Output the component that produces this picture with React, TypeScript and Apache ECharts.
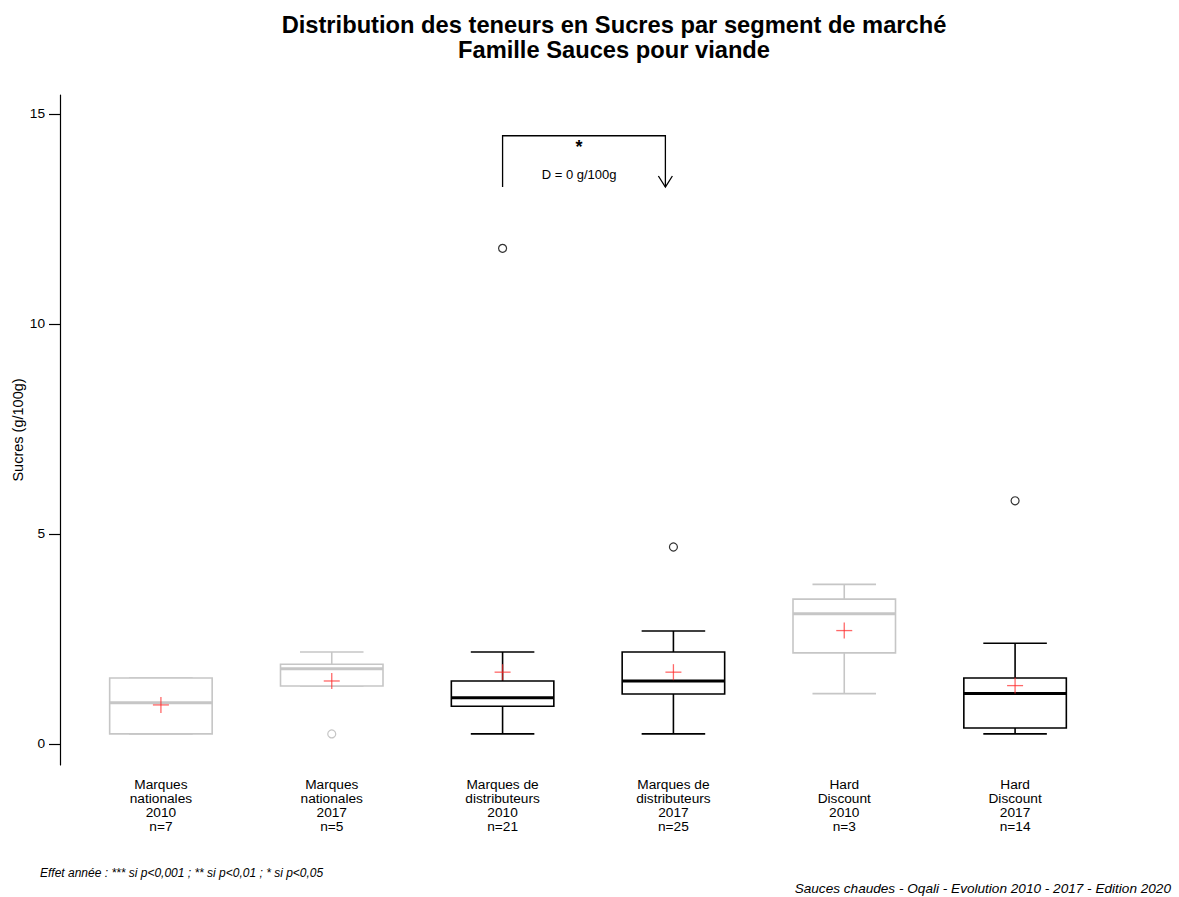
import React, { useEffect, useRef } from "react";
import * as echarts from "echarts";

const FONT = "'Liberation Sans', Arial, Helvetica, sans-serif";

const categories = [
  "Marques\nnationales\n2010\nn=7",
  "Marques\nnationales\n2017\nn=5",
  "Marques de\ndistributeurs\n2010\nn=21",
  "Marques de\ndistributeurs\n2017\nn=25",
  "Hard\nDiscount\n2010\nn=3",
  "Hard\nDiscount\n2017\nn=14",
];

// [low whisker, Q1, median, Q3, high whisker]
const boxStats = [
  [0.24, 0.24, 0.98, 1.57, 1.57],
  [1.38, 1.38, 1.79, 1.9, 2.19],
  [0.24, 0.9, 1.1, 1.5, 2.19],
  [0.24, 1.19, 1.5, 2.19, 2.69],
  [1.2, 2.17, 3.1, 3.45, 3.8],
  [0.24, 0.38, 1.2, 1.57, 2.4],
];

const means = [0.93, 1.5, 1.71, 1.71, 2.7, 1.39];

// [category index, value]
const outliers = [
  [1, 0.24],
  [2, 11.8],
  [3, 4.69],
  [5, 5.79],
];

// small samples drawn in grey
const boxColors = ["#c6c6c6", "#c6c6c6", "#000000", "#000000", "#c6c6c6", "#000000"];

const yTicks = [0, 5, 10, 15];

// significance bracket between categories 2 and 3
const annotation = { from: 2, to: 3, yTop: 14.48, yBottom: 13.26, star: "*", label: "D = 0 g/100g", starY: 14.21, labelY: 13.55 };

export default function App() {
  const ref = useRef<HTMLDivElement>(null);
  useEffect(() => {
    document.body.style.margin = "0";
    const chart = echarts.init(ref.current!, null, { renderer: "svg" });
    const option: any = {
      animation: false,
      backgroundColor: "#ffffff",
      textStyle: { fontFamily: FONT },
      grid: { left: 75.5, right: 78.5, top: 95, bottom: 132, containLabel: false, outerBoundsMode: "none" },
      graphic: [
        {
          type: "text",
          x: 614,
          y: 12,
          style: {
            text: "Distribution des teneurs en Sucres par segment de marché\nFamille Sauces pour viande",
            font: `bold 23.7px ${FONT}`,
            fill: "#000",
            textAlign: "center",
            lineHeight: 25,
          },
        },
        {
          type: "text",
          x: 40,
          y: 867,
          style: {
            text: "Effet année : *** si p<0,001 ; ** si p<0,01 ; * si p<0,05",
            font: `italic 12px ${FONT}`,
            fill: "#000",
          },
        },
        {
          type: "text",
          x: 1171,
          y: 881,
          style: {
            text: "Sauces chaudes - Oqali - Evolution 2010 - 2017 - Edition 2020",
            font: `italic 13.6px ${FONT}`,
            fill: "#000",
            textAlign: "right",
          },
        },
      ],
      xAxis: {
        type: "category",
        data: categories,
        boundaryGap: true,
        axisLine: { show: false },
        axisTick: { show: false },
        splitLine: { show: false },
        axisLabel: { fontSize: 13.7, lineHeight: 14.2, color: "#000", margin: 12, interval: 0, fontFamily: FONT },
      },
      yAxis: {
        type: "value",
        min: -0.5,
        max: 15.45,
        offset: 15.5,
        splitLine: { show: false },
        axisLine: { show: true, lineStyle: { color: "#000", width: 1.2 } },
        axisTick: { show: true, length: 11, customValues: yTicks, lineStyle: { color: "#000", width: 1.2 } },
        axisLabel: { customValues: yTicks, fontSize: 13.7, color: "#000", margin: 15, fontFamily: FONT },
        name: "Sucres (g/100g)",
        nameLocation: "middle",
        nameGap: 35,
        nameMoveOverlap: false,
        nameTextStyle: { fontSize: 14.5, color: "#000", fontFamily: FONT },
      },
      series: [
        {
          type: "custom",
          name: "box",
          data: boxStats.map((b, i) => [i, ...b]),
          renderItem: (params: any, api: any) => {
            const idx = api.value(0);
            const low = api.value(1), q1 = api.value(2), med = api.value(3), q3 = api.value(4), high = api.value(5);
            const color = boxColors[params.dataIndex];
            const band = api.size([1, 0])[0];
            const boxW = band * 0.6;
            const capW = boxW * 0.62;
            const [cx, yLow] = api.coord([idx, low]);
            const yQ1 = api.coord([idx, q1])[1];
            const yMed = api.coord([idx, med])[1];
            const yQ3 = api.coord([idx, q3])[1];
            const yHigh = api.coord([idx, high])[1];
            const ls = { stroke: color, lineWidth: 1.6, fill: "none" };
            return {
              type: "group",
              children: [
                { type: "line", shape: { x1: cx, y1: yQ3, x2: cx, y2: yHigh }, style: ls },
                { type: "line", shape: { x1: cx, y1: yQ1, x2: cx, y2: yLow }, style: ls },
                { type: "line", shape: { x1: cx - capW / 2, y1: yHigh, x2: cx + capW / 2, y2: yHigh }, style: ls },
                { type: "line", shape: { x1: cx - capW / 2, y1: yLow, x2: cx + capW / 2, y2: yLow }, style: ls },
                { type: "rect", shape: { x: cx - boxW / 2, y: yQ3, width: boxW, height: yQ1 - yQ3 }, style: { stroke: color, lineWidth: 1.6, fill: "#fff" } },
                { type: "line", shape: { x1: cx - boxW / 2, y1: yMed, x2: cx + boxW / 2, y2: yMed }, style: { stroke: color, lineWidth: 3 } },
              ],
            };
          },
          z: 2,
        },
        {
          type: "custom",
          name: "mean",
          data: means.map((m, i) => [i, m]),
          renderItem: (params: any, api: any) => {
            const [x, y] = api.coord([api.value(0), api.value(1)]);
            const h = 8;
            const st = { stroke: "rgba(255,40,40,0.7)", lineWidth: 1.3 };
            return {
              type: "group",
              children: [
                { type: "line", shape: { x1: x - h, y1: y, x2: x + h, y2: y }, style: st },
                { type: "line", shape: { x1: x, y1: y - h, x2: x, y2: y + h }, style: st },
              ],
            };
          },
          z: 4,
        },
        {
          type: "custom",
          name: "outliers",
          data: outliers,
          renderItem: (params: any, api: any) => {
            const i = api.value(0);
            const [x, y] = api.coord([i, api.value(1)]);
            return {
              type: "circle",
              shape: { cx: x, cy: y, r: 4 },
              style: { stroke: i === 1 ? "#c6c6c6" : "#333", lineWidth: 1.2, fill: "none" },
            };
          },
          z: 3,
        },
        {
          type: "custom",
          name: "annotation",
          data: [[annotation.from, annotation.to, annotation.yTop, annotation.yBottom, annotation.starY, annotation.labelY]],
          renderItem: (params: any, api: any) => {
            const band = api.size([1, 0])[0];
            const x1 = api.coord([api.value(0), 0])[0];
            const x2 = api.coord([api.value(1), 0])[0] - band * 0.047;
            const yT = api.coord([0, api.value(2)])[1];
            const yB = api.coord([0, api.value(3)])[1];
            const yS = api.coord([0, api.value(4)])[1];
            const yL = api.coord([0, api.value(5)])[1];
            const mx = x1 + (x2 - x1) * 0.47;
            const st = { stroke: "#000", lineWidth: 1.3, fill: "none" };
            return {
              type: "group",
              children: [
                { type: "polyline", shape: { points: [[x1, yB], [x1, yT], [x2, yT], [x2, yB]] }, style: st },
                { type: "polyline", shape: { points: [[x2 - 7, yB - 11], [x2, yB], [x2 + 7, yB - 11]] }, style: st },
                { type: "text", x: mx, y: yS, style: { text: annotation.star, font: `bold 18px ${FONT}`, fill: "#000", textAlign: "center", textVerticalAlign: "middle" } },
                { type: "text", x: mx, y: yL, style: { text: annotation.label, font: `13px ${FONT}`, fill: "#000", textAlign: "center", textVerticalAlign: "middle" } },
              ],
            };
          },
          z: 5,
        },
      ],
    };
    chart.setOption(option);
    return () => chart.dispose();
  }, []);
  return <div ref={ref} style={{ width: 1179, height: 897 }} />;
}
